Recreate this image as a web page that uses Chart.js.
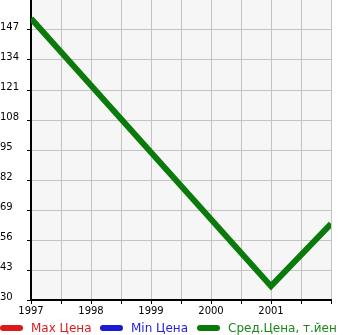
<!DOCTYPE html>
<html>
<head>
<meta charset="utf-8">
<script src="https://cdn.jsdelivr.net/npm/chart.js@4/dist/chart.umd.min.js"></script>
<style>
  html, body { margin: 0; padding: 0; background: #fff; }
  #wrap { width: 345px; height: 335px; position: relative; }
</style>
</head>
<body>
<div id="wrap"><canvas id="price-chart"></canvas></div>
<script>
// chart data
const years = [1997, 2001, 2002];
const avgPrice = [152, 36, 63];
const maxPrice = [];
const minPrice = [];
const seriesNames = ["Max Цена", "Min Цена", "Сред.Цена, т.йен"];
const yTicks = [30, 43, 56, 69, 82, 95, 108, 121, 134, 147];
const xLabels = [1997, 1998, 1999, 2000, 2001];

const FONT = "DejaVu Sans";

// grey plot background
const plotBg = {
    id: "plotBg",
    beforeDraw(chart) {
        const a = chart.chartArea;
        const ctx = chart.ctx;
        ctx.save();
        ctx.fillStyle = "#f6f6f6";
        ctx.fillRect(a.left, a.top, a.right - a.left, a.bottom - a.top);
        ctx.restore();
    }
};

// legend along the bottom, line markers + coloured text
const bottomLegend = {
    id: "bottomLegend",
    afterDraw(chart) {
        const ctx = chart.ctx;
        ctx.save();
        ctx.font = "12px '" + FONT + "'";
        ctx.textBaseline = "middle";
        let x = 0;
        const y = 328;
        chart.data.datasets.forEach(ds => {
            ctx.strokeStyle = ds.borderColor;
            ctx.lineWidth = 6;
            ctx.lineCap = "round";
            ctx.beginPath();
            ctx.moveTo(x + 3, y);
            ctx.lineTo(x + 20, y);
            ctx.stroke();
            ctx.fillStyle = ds.textColor;
            ctx.fillText(ds.label, x + 31, y + 1);
            x = Math.round(x + 31 + ctx.measureText(ds.label).width + 8.5);
        });
        ctx.restore();
    }
};

function toPoints(vals) {
    return vals.map((v, i) => ({ x: years[i], y: v }));
}

const ctx = document.getElementById("price-chart").getContext("2d");
const myChart = new Chart(ctx, {
    type: "line",
    data: {
        datasets: [
            {
                label: seriesNames[0],
                data: toPoints(maxPrice),
                borderColor: "#dd1a1a",
                textColor: "#d81e1e",
                borderWidth: 6
            },
            {
                label: seriesNames[1],
                data: toPoints(minPrice),
                borderColor: "#1a1ad6",
                textColor: "#2222dd",
                borderWidth: 6
            },
            {
                label: seriesNames[2],
                data: toPoints(avgPrice),
                borderColor: "#0a7a0a",
                textColor: "#1a881a",
                borderWidth: 6,
                pointRadius: 0,
                tension: 0
            }
        ]
    },
    options: {
        responsive: true,
        maintainAspectRatio: false,
        animation: false,
        layout: { padding: { left: 0, right: 14, top: 0, bottom: 0 } },
        plugins: {
            legend: { display: false },
            tooltip: { enabled: false }
        },
        elements: { line: { borderJoinStyle: "miter" } },
        scales: {
            x: {
                type: "linear",
                min: 1997,
                max: 2002,
                afterFit(scale) {
                    scale.height = 35;
                    scale.paddingLeft = 0;
                    scale.paddingRight = 0;
                },
                border: { color: "#000", width: 2 },
                grid: {
                    color: "#c4c4c4",
                    tickColor: "#000",
                    tickLength: 4,
                    lineWidth: 1
                },
                ticks: {
                    stepSize: 0.5,
                    autoSkip: false,
                    maxRotation: 0,
                    padding: 1,
                    color: "#000",
                    font: { family: FONT, size: 10 },
                    callback: v => xLabels.includes(v) ? String(v) : ""
                }
            },
            y: {
                min: 30,
                max: 160,
                afterFit(scale) {
                    scale.width = 31;
                    scale.paddingTop = 0;
                    scale.paddingBottom = 0;
                },
                border: { color: "#000", width: 2 },
                grid: {
                    color: c => c.tick && c.tick.value === 160 ? "rgba(0,0,0,0)" : "#c4c4c4",
                    tickColor: c => c.tick && c.tick.value === 160 ? "rgba(0,0,0,0)" : "#000",
                    tickLength: 4,
                    lineWidth: 1
                },
                ticks: {
                    stepSize: 13,
                    crossAlign: "far",
                    labelOffset: -3,
                    color: "#000",
                    font: { family: FONT, size: 10 },
                    callback: v => yTicks.includes(v) ? String(v) : ""
                }
            }
        }
    },
    plugins: [plotBg, bottomLegend]
});
</script>
</body>
</html>
